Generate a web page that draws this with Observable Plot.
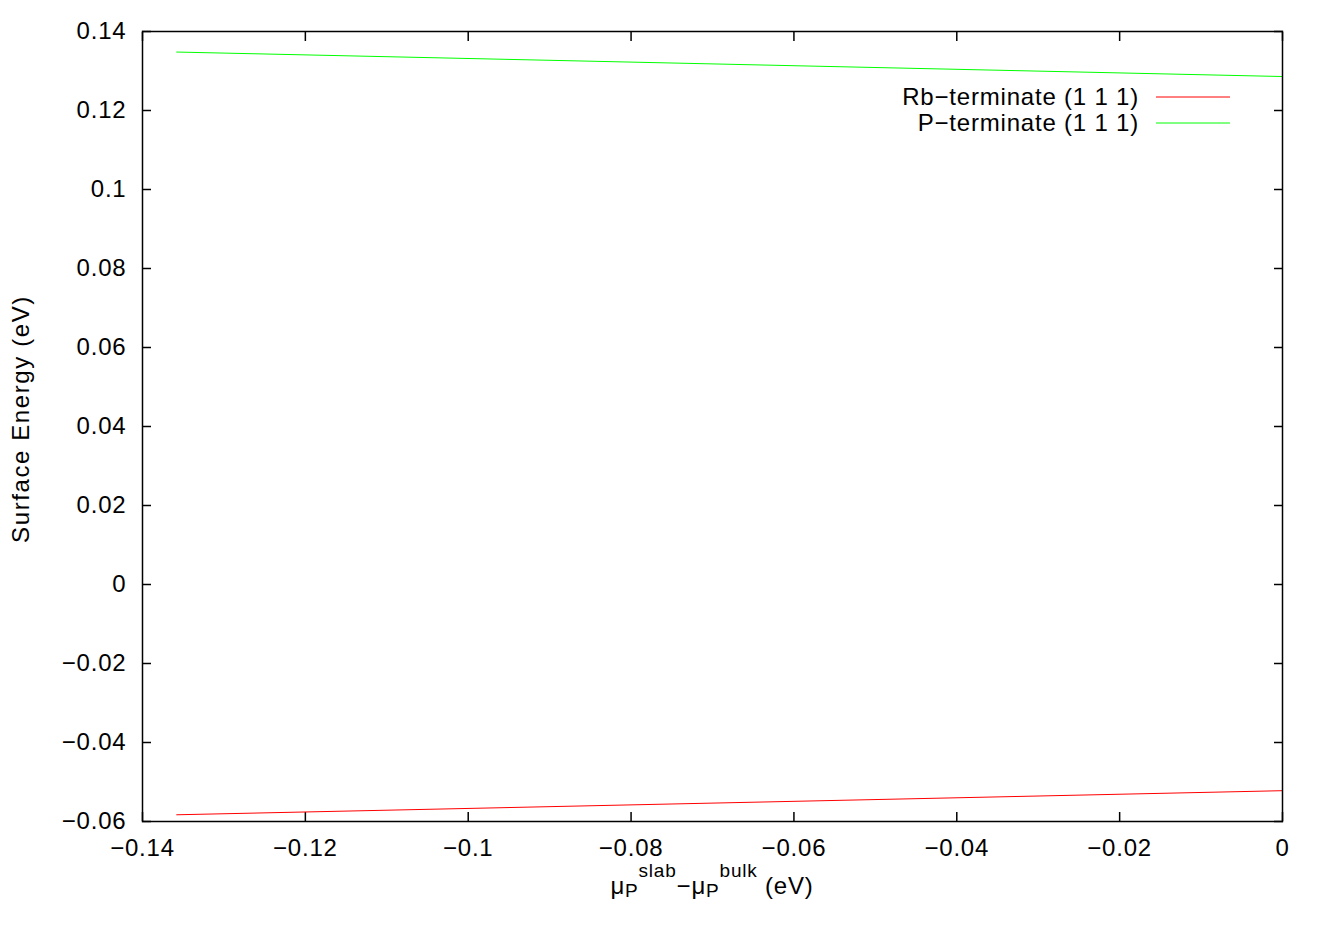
<!DOCTYPE html>
<html>
<head>
<meta charset="utf-8">
<script src="https://cdn.jsdelivr.net/npm/d3@7"></script>
<script src="https://cdn.jsdelivr.net/npm/@observablehq/plot@0.6"></script>
<style>
  html, body { margin: 0; padding: 0; background: #fff; }
  #chart { position: relative; width: 1329px; height: 930px; }
  svg { font-family: "Liberation Sans", Arial, sans-serif; }
  svg text { letter-spacing: 0.8px; }
</style>
</head>
<body>
<div id="chart"></div>
<script>
// ---- data ----
const muX = [-0.1358, 0];
const rbEnergy = [-0.0583, -0.0522];
const pEnergy = [0.1348, 0.1286];
const seriesNames = ["Rb\u2212terminate (1 1 1)", "P\u2212terminate (1 1 1)"];
const seriesColors = ["#ff0000", "#00ff00"];
const xTicks = [-0.14, -0.12, -0.1, -0.08, -0.06, -0.04, -0.02, 0];
const yTicks = [-0.06, -0.04, -0.02, 0, 0.02, 0.04, 0.06, 0.08, 0.1, 0.12, 0.14];

const rows = [];
muX.forEach((x, i) => rows.push({series: seriesNames[0], x, y: rbEnergy[i]}));
muX.forEach((x, i) => rows.push({series: seriesNames[1], x, y: pEnergy[i]}));

const fmt = d => Math.abs(d) < 1e-12 ? "0" : d3.format("~g")(d);

const W = 1329, H = 930;
const mL = 142, mR = 47, mT = 31, mB = 109;

const plot = Plot.plot({
  width: W,
  height: H,
  marginLeft: mL,
  marginRight: mR,
  marginTop: mT,
  marginBottom: mB,
  style: {fontSize: "24px", fontFamily: "Liberation Sans, Arial, sans-serif", background: "#fff", color: "#000"},
  x: {domain: [-0.14, 0]},
  y: {domain: [-0.06, 0.14]},
  color: {domain: seriesNames, range: seriesColors},
  marks: [
    // inward ticks on all four sides
    Plot.axisX(xTicks, {anchor: "bottom", tickSize: -9, fill: "none", label: null, strokeWidth: 1.5}),
    Plot.axisX(xTicks, {anchor: "top", tickSize: -9, fill: "none", label: null, strokeWidth: 1.5}),
    Plot.axisY(yTicks, {anchor: "left", tickSize: -9, fill: "none", label: null, strokeWidth: 1.5}),
    Plot.axisY(yTicks, {anchor: "right", tickSize: -9, fill: "none", label: null, strokeWidth: 1.5}),
    // tick labels
    Plot.axisX(xTicks, {anchor: "bottom", tickSize: 0, tickPadding: 17, tickFormat: fmt, label: null}),
    Plot.axisY(yTicks, {anchor: "left", tickSize: 0, tickPadding: 16, tickFormat: fmt, label: null}),
    Plot.line(rows, {x: "x", y: "y", z: "series", stroke: "series", strokeWidth: 1}),
    Plot.frame({stroke: "#000", strokeWidth: 1.5})
  ]
});

document.getElementById("chart").appendChild(plot);

const svg = d3.select(plot);

// x axis label with sub/superscripts
const xl = svg.append("text")
  .attr("x", mL + (W - mL - mR) / 2)
  .attr("y", 894)
  .attr("text-anchor", "middle")
  .attr("font-size", 24)
  .attr("fill", "#000");
const parts = [
  {t: "\u03bc", fs: 24, dy: 0},
  {t: "P", fs: 19, dy: 3},
  {t: "slab", fs: 19, dy: -20},
  {t: "\u2212\u03bc", fs: 24, dy: 17},
  {t: "P", fs: 19, dy: 3},
  {t: "bulk", fs: 19, dy: -20},
  {t: " (eV)", fs: 24, dy: 17}
];
parts.forEach(p => xl.append("tspan").attr("font-size", p.fs).attr("dy", p.dy).text(p.t));

// y axis label
svg.append("text")
  .attr("transform", `translate(29, ${mT + (H - mT - mB) / 2 - 7}) rotate(-90)`)
  .attr("text-anchor", "middle")
  .attr("font-size", 24)
  .style("letter-spacing", "1.6px")
  .attr("fill", "#000")
  .text("Surface Energy (eV)");

// legend
const lg = svg.append("g");
seriesNames.forEach((name, i) => {
  const cy = 97 + i * 26;
  lg.append("text")
    .attr("x", 1139)
    .attr("y", cy)
    .attr("dy", "0.35em")
    .attr("text-anchor", "end")
    .attr("font-size", 24)
    .attr("fill", "#000")
    .text(name);
  lg.append("line")
    .attr("x1", 1156).attr("x2", 1230)
    .attr("y1", cy).attr("y2", cy)
    .attr("stroke", seriesColors[i])
    .attr("stroke-width", 1);
});
</script>
</body>
</html>
